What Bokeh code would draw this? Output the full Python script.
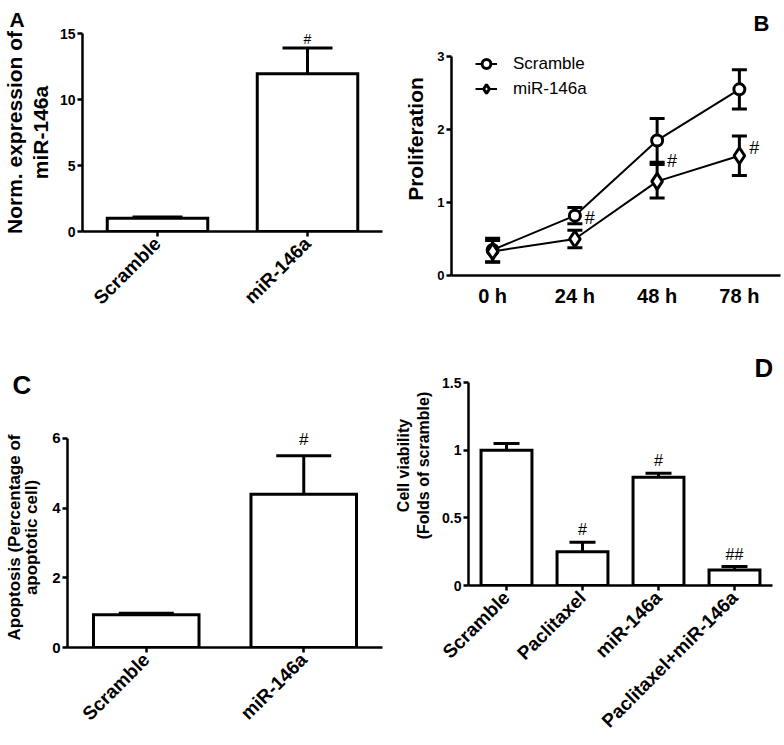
import math
from bokeh.plotting import figure
from bokeh.models import (ColumnDataSource, FactorRange, Range1d, Whisker, TeeHead,
                          LabelSet, Label, Legend, LegendItem, FixedTicker)
from bokeh.layouts import column, row
from bokeh.embed import file_html
from bokeh.resources import INLINE
from bokeh.core.properties import value

# ---------------- data ----------------
# Panel A
a_cats = ["Scramble", "miR-146a"]
a_vals = [1.0, 11.95]
a_errs = [0.1, 1.95]
a_sig = ["", "#"]
a_ticks = [0, 5, 10, 15]

# Panel B
b_times = ["0 h", "24 h", "48 h", "78 h"]
b_scr = [0.35, 0.82, 1.85, 2.55]
b_scr_err = [0.16, 0.11, 0.30, 0.27]
b_mir = [0.33, 0.50, 1.29, 1.64]
b_mir_err = [0.15, 0.12, 0.23, 0.27]
b_sig = ["", "#", "#", "#"]
b_sig_y = [0.0, 0.79, 1.57, 1.74]
b_ticks = [0, 1, 2, 3]

# Panel C
c_cats = ["Scramble", "miR-146a"]
c_vals = [0.94, 4.4]
c_errs = [0.04, 1.1]
c_sig = ["", "#"]
c_ticks = [0, 2, 4, 6]

# Panel D
d_cats = ["Scramble", "Paclitaxel", "miR-146a", "Paclitaxel+miR-146a"]
d_vals = [1.0, 0.25, 0.80, 0.115]
d_errs = [0.05, 0.07, 0.03, 0.025]
d_sig = ["", "#", "#", "##"]
d_ticks = [0, 0.5, 1.0, 1.5]

FONT = "Liberation Sans"


def base_style(p, tick_size, label_size, label_lh, ymax):
    p.outline_line_color = None
    p.grid.visible = False
    p.background_fill_color = "white"
    p.border_fill_color = "white"
    for ax in (p.xaxis[0], p.yaxis[0]):
        ax.axis_line_width = 2.5
        ax.axis_line_color = "black"
        ax.major_tick_line_width = 2.5
        ax.major_tick_line_color = "black"
        ax.major_tick_in = 0
        ax.major_tick_out = 5
        ax.minor_tick_line_color = None
        ax.major_label_text_font = FONT
        ax.major_label_text_font_style = "bold"
        ax.major_label_text_color = "black"
        ax.axis_label_text_font = FONT
        ax.axis_label_text_font_style = "bold"
        ax.axis_label_text_color = "black"
    p.yaxis[0].bounds = (0, ymax)
    p.yaxis[0].major_label_text_font_size = tick_size
    p.yaxis[0].major_label_standoff = 2
    p.yaxis[0].axis_label_text_font_size = label_size
    p.yaxis[0].axis_label_text_line_height = label_lh


def letter_title(p, text, size, offset, standoff):
    p.title.text = text
    p.title.text_font = FONT
    p.title.text_font_style = "bold"
    p.title.text_font_size = size
    p.title.text_color = "black"
    p.title.align = "left"
    p.title.offset = offset
    p.title.standoff = standoff


def letter_label(p, text, size, x, y):
    p.add_layout(Label(x=x, y=y, x_units="screen", y_units="screen", text=text,
                       text_font=FONT, text_font_style="bold", text_font_size=size,
                       text_baseline="alphabetic", text_align="left", text_color="black"))


def bar_panel(cats, vals, errs, sig, ticks, ymax, yend, w, h, borders, ylabel,
              tick_size, label_size, label_lh, label_standoff, xlab_size,
              cap, sig_off, sig_size, margin=(0, 0, 0, 0)):
    bl, br, bt, bb = borders
    p = figure(x_range=FactorRange(*cats, range_padding=0), y_range=Range1d(0, yend),
               width=w, height=h, output_backend="svg", toolbar_location=None,
               min_border_left=bl, min_border_right=br, min_border_top=bt,
               min_border_bottom=bb, margin=margin)
    base_style(p, tick_size, label_size, label_lh, ymax)
    p.yaxis[0].ticker = FixedTicker(ticks=ticks)
    p.yaxis[0].axis_label = ylabel
    p.yaxis[0].axis_label_standoff = label_standoff
    p.xaxis[0].major_label_orientation = math.pi / 4
    p.xaxis[0].major_label_text_font_size = xlab_size
    p.xaxis[0].major_label_standoff = 4
    upper = [v + e for v, e in zip(vals, errs)]
    src = ColumnDataSource(dict(x=cats, top=vals, upper=upper, sig=sig))
    p.vbar(x="x", top="top", width=0.67, source=src, fill_color="white",
           line_color="black", line_width=3, line_join="miter")
    p.add_layout(Whisker(source=src, base="x", lower="top", upper="upper",
                         dimension="height", line_width=3, line_color="black",
                         upper_head=TeeHead(size=cap, line_width=3, line_color="black"),
                         lower_head=None))
    p.add_layout(LabelSet(source=src, x="x", y="upper", text="sig", text_align="center",
                          text_baseline="alphabetic", y_offset=sig_off,
                          text_font=value(FONT), text_font_size=value(sig_size),
                          text_color="black"))
    return p


# ---------------- Panel A ----------------
pA = bar_panel(a_cats, a_vals, a_errs, a_sig, a_ticks, 15, 15, 392, 340, (81, 10, 33, 109),
               "Norm. expression of\nmiR-146a", "14px", "21px", 1.12, 5, "19px",
               50, 4, "14px")
letter_title(pA, "A", "21px", -73, 5)

# ---------------- Panel B ----------------
pB = figure(x_range=FactorRange(*b_times, range_padding=0),
            y_range=Range1d(0, 3 * 273 / 219),
            width=392, height=338, output_backend="svg", toolbar_location=None,
            min_border_left=59, min_border_right=4, min_border_top=1, min_border_bottom=64,
            margin=(1, 0, 0, 0))
base_style(pB, "13px", "21px", 1.2, 3)
pB.yaxis[0].ticker = FixedTicker(ticks=b_ticks)
pB.yaxis[0].axis_label = "Proliferation"
pB.yaxis[0].axis_label_standoff = 7
pB.xaxis[0].major_tick_out = 0
pB.xaxis[0].major_label_text_font_size = "20px"
pB.xaxis[0].major_label_standoff = 9

src_s = ColumnDataSource(dict(x=b_times, y=b_scr,
                              lo=[v - e for v, e in zip(b_scr, b_scr_err)],
                              hi=[v + e for v, e in zip(b_scr, b_scr_err)]))
src_m = ColumnDataSource(dict(x=b_times, y=b_mir,
                              lo=[v - e for v, e in zip(b_mir, b_mir_err)],
                              hi=[v + e for v, e in zip(b_mir, b_mir_err)]))
for s in (src_s, src_m):
    pB.add_layout(Whisker(source=s, base="x", lower="lo", upper="hi", dimension="height",
                          line_width=3, line_color="black",
                          upper_head=TeeHead(size=15, line_width=3, line_color="black"),
                          lower_head=TeeHead(size=15, line_width=3, line_color="black")))
ln_s = pB.line("x", "y", source=src_s, line_width=2, line_color="black")
mk_s = pB.scatter("x", "y", source=src_s, marker="circle", size=11, fill_color="white",
                  line_color="black", line_width=3)
ln_m = pB.line("x", "y", source=src_m, line_width=2, line_color="black")
mk_m = pB.scatter("x", "y", source=src_m, marker="diamond", size=16, fill_color="white",
                  line_color="black", line_width=3)
legB = Legend(items=[LegendItem(label="Scramble", renderers=[ln_s, mk_s]),
                     LegendItem(label="miR-146a", renderers=[ln_m, mk_m])],
              location=(24, 174), padding=0, margin=0, spacing=0,
              glyph_width=22, glyph_height=25, label_height=25, label_standoff=16,
              label_text_font=FONT, label_text_font_size="17px", label_text_color="black",
              border_line_color=None, background_fill_alpha=0)
pB.add_layout(legB)
src_sig = ColumnDataSource(dict(x=b_times, y=b_sig_y, t=b_sig))
pB.add_layout(LabelSet(source=src_sig, x="x", y="y", text="t", text_align="center",
                       text_baseline="middle", x_offset=15,
                       text_font=value(FONT), text_font_size=value("18px"),
                       text_color="black"))
letter_label(pB, "B", "22px", 302, 252)

# ---------------- Panel C ----------------
pC = bar_panel(c_cats, c_vals, c_errs, c_sig, c_ticks, 6, 6 * 221 / 210, 392, 405,
               (67, 10, 86, 98),
               "Apoptosis (Percentage of\napoptotic cell)", "15px", "17px", 0.92, 8, "19px",
               55, 11, "17px")
letter_title(pC, "C", "26px", -55, 55)

# ---------------- Panel D ----------------
pD = bar_panel(d_cats, d_vals, d_errs, d_sig, d_ticks, 1.5, 1.5 * 240 / 203, 392, 403,
               (73, 12, 4, 159),
               "Cell viability\n(Folds of scramble)", "14px", "16px", 1.15, 7, "19px",
               26, 7, "16px", margin=(1, 0, 0, 0))
letter_label(pD, "D", "26px", 286, 218)

layout = column(row(column(pA), column(pB)), row(column(pC), column(pD)))
open("out.html", "w").write(file_html(layout, INLINE))
